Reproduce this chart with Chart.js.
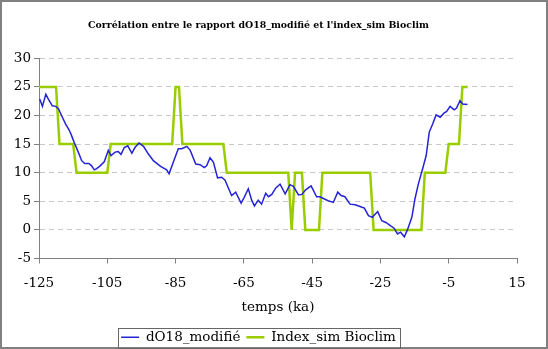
<!DOCTYPE html>
<html>
<head>
<meta charset="utf-8">
<script src="https://cdn.jsdelivr.net/npm/chart.js@4.4.1/dist/chart.umd.min.js"></script>
<style>
  body { margin: 0; background: #fff; }
  canvas { display: block; }
</style>
</head>
<body>
<canvas id="chart" width="548" height="349"></canvas>
<script>
// Titles and names
const titleText = "Corrélation entre le rapport dO18_modifié et l'index_sim Bioclim";
const xTitle = 'temps (ka)';
const seriesNames = ['dO18_modifié', 'Index_sim Bioclim'];

// dO18_modifié (age in ka, value)
const d18Ages = [-124.8, -124, -123, -122.3, -121.1, -120.1, -119.3, -118.4, -117.2, -116.2,
  -115.6, -114.7, -113.5, -112.5, -111.6, -110.4, -109.6, -108.8, -108.1, -107.1,
  -105.9, -104.7, -103.9, -102.7, -101.8, -101, -100, -99, -97.8, -96.9,
  -95.7, -94.4, -93, -91.5, -89.4, -87.6, -86.9, -85.7, -84.2, -83.2,
  -82.4, -81.7, -80.7, -79.1, -77.8, -76.6, -75.9, -74.9, -73.9, -72.7,
  -71.5, -70.5, -69.6, -68.6, -67.4, -65.8, -64.9, -63.7, -62.7, -61.9,
  -60.8, -59.8, -58.6, -57.8, -56.8, -55.7, -54.4, -52.9, -51.5, -50.5,
  -49, -48, -46.9, -45.3, -43.7, -42.7, -41.4, -40.3, -38.8, -37.5,
  -36.5, -35.4, -33.9, -32.4, -31, -29.7, -28.5, -27.4, -25.8, -24.6,
  -23.4, -22, -21, -20, -19.1, -18, -17.1, -15.8, -14.9, -13.9,
  -12.4, -11.6, -10.7, -9.7, -8.7, -7.5, -6.4, -5.6, -4.6, -3.4,
  -2.7, -1.7, -0.9, 0.5];
const d18Values = [22.9, 21.6, 23.7, 22.9, 21.7, 21.6, 21.2, 20, 18.5, 17.5,
  16.7, 15.3, 13.6, 12.1, 11.6, 11.6, 11.2, 10.5, 10.7, 11.2,
  11.9, 13.9, 13, 13.6, 13.7, 13.2, 14.4, 14.7, 13.4, 14.4,
  15.2, 14.6, 13.3, 12.1, 11.1, 10.5, 9.8, 11.8, 14.2, 14.2,
  14.4, 14.6, 13.9, 11.5, 11.4, 10.9, 11.2, 12.6, 11.8, 9.1,
  9.2, 8.7, 7.4, 6.0, 6.6, 4.7, 5.7, 7.2, 5.2, 4.2,
  5.2, 4.5, 6.4, 5.8, 6.2, 7.3, 8.0, 6.3, 7.9, 7.6,
  6.1, 6.2, 7.0, 7.7, 5.8, 5.8, 5.4, 5.1, 4.8, 6.6,
  6.0, 5.8, 4.5, 4.4, 4.1, 3.8, 2.5, 2.2, 3.2, 1.6,
  1.3, 0.7, 0.3, -0.7, -0.4, -1.2, 0, 2.2, 5.4, 8.0,
  11.2, 13.0, 17.1, 18.5, 20.1, 19.7, 20.4, 20.7, 21.6, 21.0,
  21.3, 22.6, 22.0, 21.9];

// Index_sim Bioclim, step levels
const bioAges = [-125, -120, -119, -115, -114, -105, -104, -86, -85, -84,
  -83, -71, -70, -52, -51, -50, -48, -47, -43, -42,
  -28, -27, -13, -12, -6, -5, -2, -1, 0.5];
const bioValues = [25, 25, 15, 15, 10, 10, 15, 15, 25, 25,
  15, 15, 10, 10, 0, 10, 10, 0, 0, 10,
  10, 0, 0, 10, 10, 15, 15, 25, 25];

// Axis ticks
const xTicks = [-125, -105, -85, -65, -45, -25, -5, 15];
const yTicks = [-5, 0, 5, 10, 15, 20, 25, 30];

const serif = 'DejaVu Serif';

// frame round the whole picture and box round the legend
const framePlugin = {
    id: 'frames',
    afterDraw(chart) {
        const ctx = chart.ctx;
        ctx.save();
        ctx.strokeStyle = '#808080';
        ctx.lineWidth = 2;
        ctx.strokeRect(1, 1, chart.width - 2, chart.height - 2);
        const boxes = chart.legend.legendHitBoxes;
        if (boxes && boxes.length) {
            const left = Math.min(...boxes.map(b => b.left)) - 3;
            const right = Math.max(...boxes.map(b => b.left + b.width)) + 4;
            const top = boxes[0].top - 3;
            ctx.strokeStyle = '#666';
            ctx.lineWidth = 1;
            ctx.strokeRect(Math.round(left) + 0.5, Math.round(top) + 0.5,
                Math.round(right - left), Math.round(boxes[0].height + 6));
        }
        ctx.restore();
    }
};

const ctx = document.getElementById('chart').getContext('2d');
new Chart(ctx, {
    type: 'line',
    data: {
        datasets: [{
            label: seriesNames[0],
            data: d18Ages.map((a, i) => ({ x: a, y: d18Values[i] })),
            borderColor: '#2424d4',
            borderWidth: 1.5,
            pointRadius: 0,
            tension: 0,
        }, {
            label: seriesNames[1],
            data: bioAges.map((a, i) => ({ x: a, y: bioValues[i] })),
            borderColor: '#9acd00',
            borderWidth: 2.5,
            pointRadius: 0,
            tension: 0,
        }]
    },
    options: {
        responsive: false,
        animation: false,
        layout: { padding: { left: 0, right: 31, top: 0, bottom: -5 } },
        scales: {
            x: {
                type: 'linear',
                min: -125,
                max: 15,
                afterBuildTicks: s => { s.ticks = xTicks.map(v => ({ value: v })); },
                afterFit: s => { s.height = 66; },
                grid: { drawOnChartArea: false, tickLength: 5, color: '#808080' },
                border: { color: '#808080', width: 1 },
                ticks: { color: '#000', padding: 12, font: { family: serif, size: 13.5 }, maxRotation: 0 },
                title: { display: true, text: xTitle, color: '#000', font: { family: serif, size: 13.5 }, padding: { top: 4, bottom: 9 } }
            },
            y: {
                min: -5,
                max: 30,
                afterBuildTicks: s => { s.ticks = yTicks.map(v => ({ value: v })); },
                afterFit: s => { s.width = 39; },
                grid: { color: '#c8c8c8', tickLength: 5, tickColor: '#808080' },
                border: { color: '#808080', width: 1, dash: [5, 4] },
                ticks: { color: '#000', padding: 3, font: { family: serif, size: 13.5 } }
            }
        },
        plugins: {
            title: {
                display: true,
                text: titleText,
                color: '#000',
                font: { family: serif, size: 9.4, weight: 'bold' },
                padding: { top: 20, bottom: 27 }
            },
            legend: {
                position: 'bottom',
                labels: {
                    usePointStyle: true,
                    pointStyle: 'line',
                    pointStyleWidth: 18,
                    color: '#000',
                    padding: 6,
                    font: { family: serif, size: 13.5 }
                }
            },
            tooltip: { enabled: false }
        }
    },
    plugins: [framePlugin]
});
</script>
</body>
</html>
